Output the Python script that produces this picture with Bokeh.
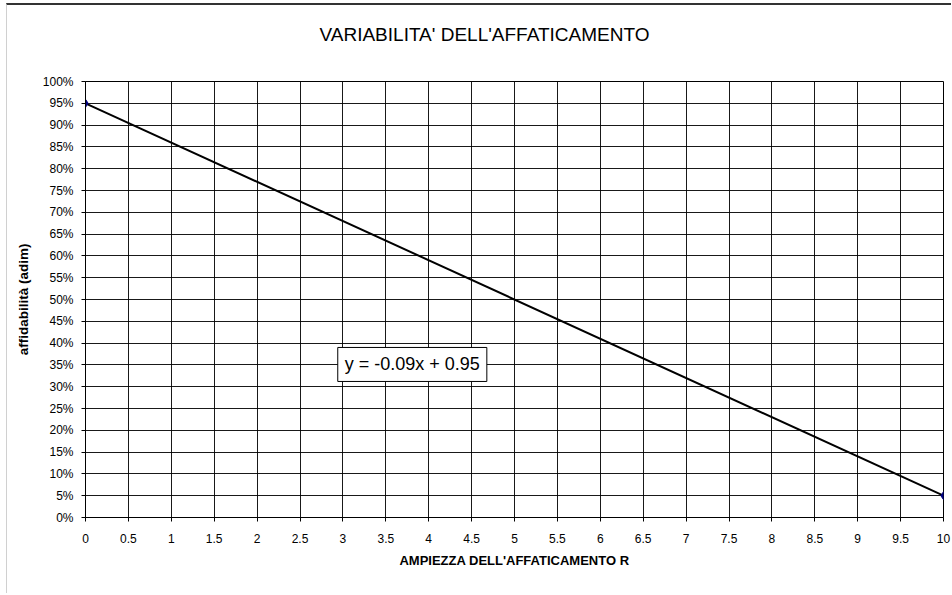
from bokeh.plotting import figure
from bokeh.models import Label, NumeralTickFormatter, FixedTicker, Range1d, Title
from bokeh.embed import file_html
from bokeh.resources import INLINE

# data
x_vals = [0, 10]
y_vals = [0.95, 0.05]
x_ticks = [i * 0.5 for i in range(21)]
y_ticks = [i * 0.05 for i in range(21)]
title_text = "VARIABILITA' DELL'AFFATICAMENTO"
x_title = "AMPIEZZA DELL'AFFATICAMENTO R"
y_title = "affidabilità (adim)"
eq_text = "y = -0.09x + 0.95"
eq_pos = (2.94, 0.312)

FONT = "Liberation Sans"

p = figure(width=945, height=590, output_backend="svg", toolbar_location=None,
           x_range=Range1d(0, 10), y_range=Range1d(0, 1))
p.min_border_left = 78
p.min_border_right = 9
p.min_border_top = 76
p.min_border_bottom = 78
p.background_fill_color = "white"
p.border_fill_color = "white"
p.outline_line_color = "black"
p.outline_line_width = 1

# spacer (nearest the frame) then the real title
spacer = Title(text=" ", text_font_size="1px", standoff=34)
p.add_layout(spacer, "above")
t = Title(text=title_text, text_font=FONT, text_font_size="19px",
          text_font_style="normal", text_color="black", align="left",
          offset=234, standoff=0)
p.add_layout(t, "above")

for ax in (p.xaxis[0], p.yaxis[0]):
    ax.axis_line_color = "black"
    ax.major_tick_line_color = "black"
    ax.major_tick_out = 4
    ax.major_tick_in = 0
    ax.minor_tick_line_color = None
    ax.major_label_text_font = FONT
    ax.major_label_text_font_size = "12px"
    ax.major_label_text_color = "black"
    ax.axis_label_text_font = FONT
    ax.axis_label_text_font_style = "bold"
    ax.axis_label_text_color = "black"

p.xaxis.axis_label_text_font_size = "13px"
p.yaxis.axis_label_text_font_size = "13.5px"
p.xaxis.ticker = FixedTicker(ticks=x_ticks)
p.yaxis.ticker = FixedTicker(ticks=y_ticks)
p.yaxis.formatter = NumeralTickFormatter(format="0%")
p.xaxis.axis_label = x_title
p.yaxis.axis_label = y_title
p.xaxis.major_label_standoff = 12
p.yaxis.major_label_standoff = 8
p.xaxis.axis_label_standoff = 7
p.yaxis.axis_label_standoff = 9

p.xgrid.ticker = FixedTicker(ticks=x_ticks)
p.ygrid.ticker = FixedTicker(ticks=y_ticks)
for g in (p.xgrid[0], p.ygrid[0]):
    g.grid_line_color = "black"
    g.grid_line_width = 1
    g.grid_line_alpha = 0.9

p.line(x_vals, y_vals, line_color="black", line_width=2)
p.scatter(x_vals, y_vals, marker="diamond", size=8, fill_color="#000080",
          line_color="#000080")

lab = Label(x=eq_pos[0], y=eq_pos[1], text=eq_text, text_font=FONT,
            text_font_size="18px", text_color="black",
            background_fill_color="white", border_line_color="black",
            border_line_width=1, padding=7)
p.add_layout(lab)

p.styles = {"margin-left": "6px", "margin-top": "3px",
            "border-top": "2px solid #333333",
            "border-left": "1px solid #d0d0d0"}

open("out.html", "w").write(file_html(p, INLINE))
